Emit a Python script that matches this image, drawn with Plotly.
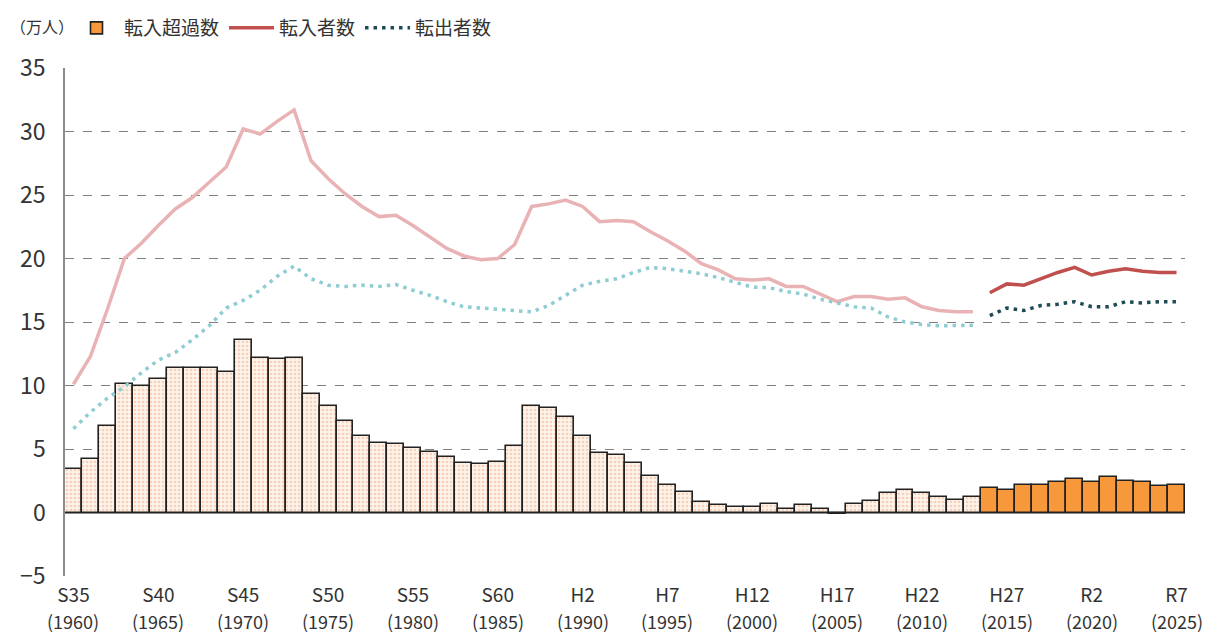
import plotly.graph_objects as go

years = list(range(1960, 2026))
years_old = years[:54]   # 1960-2013
years_new = years[54:]   # 2014-2025

# 転入超過数 (万人)
net_old = [3.4, 4.2, 6.8, 10.1, 10.0, 10.5, 11.4, 11.4, 11.4, 11.1,
           13.6, 12.2, 12.1, 12.2, 9.3, 8.4, 7.2, 6.0, 5.5, 5.4,
           5.1, 4.8, 4.4, 3.9, 3.8, 4.0, 5.2, 8.4, 8.2, 7.5,
           6.0, 4.7, 4.5, 3.9, 2.9, 2.2, 1.6, 0.8, 0.6, 0.4,
           0.4, 0.7, 0.3, 0.6, 0.3, -0.1, 0.7, 0.9, 1.5, 1.8,
           1.5, 1.2, 1.0, 1.2]
net_new = [1.9, 1.8, 2.2, 2.2, 2.4, 2.6, 2.4, 2.8, 2.5, 2.4, 2.1, 2.2]

# 転入者数 (万人)
in_old = [10.1, 12.3, 16.0, 20.0, 21.2, 22.6, 23.9, 24.8, 26.0, 27.2,
          30.2, 29.8, 30.8, 31.7, 27.7, 26.3, 25.1, 24.1, 23.3, 23.4,
          22.6, 21.7, 20.8, 20.2, 19.9, 20.0, 21.1, 24.1, 24.3, 24.6,
          24.1, 22.9, 23.0, 22.9, 22.1, 21.4, 20.6, 19.6, 19.1, 18.4,
          18.3, 18.4, 17.8, 17.8, 17.2, 16.6, 17.0, 17.0, 16.8, 16.9,
          16.2, 15.9, 15.8, 15.8]
in_new = [17.3, 18.0, 17.9, 18.4, 18.9, 19.3, 18.7, 19.0, 19.2, 19.0, 18.9, 18.9]

# 転出者数 (万人)
out_old = [6.6, 7.9, 9.0, 9.9, 11.0, 12.0, 12.6, 13.6, 14.7, 16.1,
           16.7, 17.5, 18.6, 19.4, 18.4, 17.9, 17.8, 17.9, 17.8, 17.95,
           17.5, 17.1, 16.6, 16.2, 16.1, 16.0, 15.9, 15.8, 16.3, 17.1,
           17.9, 18.2, 18.4, 18.9, 19.3, 19.2, 19.0, 18.8, 18.5, 18.1,
           17.75, 17.7, 17.4, 17.2, 16.8, 16.5, 16.2, 16.1, 15.4, 15.0,
           14.8, 14.7, 14.7, 14.75]
out_new = [15.5, 16.1, 15.9, 16.3, 16.4, 16.6, 16.2, 16.2, 16.6, 16.5, 16.6, 16.6]

tick_years = list(range(1960, 2026, 5))
tick_era = ["S35", "S40", "S45", "S50", "S55", "S60", "H2", "H7",
            "H12", "H17", "H22", "H27", "R2", "R7"]

font = "Noto Sans CJK JP"
txt = "#333333"

# page body has an 8px margin, so the figure is a bit smaller than the window
W, H = 1211, 629
L, T, R, B = 57, 60, 34, 61
plot_h = H - T - B

fig = go.Figure()

fig.add_trace(go.Bar(
    x=years_old, y=net_old, showlegend=False,
    marker=dict(color="#FDF1E6", line=dict(color="#222222", width=1.6),
                pattern=dict(shape=".", fgcolor="#EDB088", bgcolor="#FDF3EA",
                             size=4, solidity=0.35)),
))
fig.add_trace(go.Bar(
    x=years_new, y=net_new, name="転入超過数",
    marker=dict(color="#F7983A", line=dict(color="#222222", width=1.6)),
))

fig.add_trace(go.Scatter(x=years_old, y=in_old, mode="lines", showlegend=False,
                         line=dict(color="#E9B3B6", width=3.5)))
fig.add_trace(go.Scatter(x=years_new, y=in_new, mode="lines", name="転入者数",
                         line=dict(color="#C0504D", width=3.5)))

fig.add_trace(go.Scatter(x=years_old, y=out_old, mode="lines", showlegend=False,
                         line=dict(color="#8FCCD3", width=3.5, dash="3.5px,5px")))
fig.add_trace(go.Scatter(x=years_new, y=out_new, mode="lines", name="転出者数",
                         line=dict(color="#1F4A57", width=3.5, dash="3.5px,5px")))

# second row of x labels: western years
for yr in tick_years:
    fig.add_annotation(x=yr, y=(H - B - 613) / plot_h, xref="x", yref="paper",
                       text="(%d)" % yr, showarrow=False,
                       font=dict(family=font, size=18, color=txt),
                       yanchor="middle")

fig.add_annotation(x=(0 - L) / (W - L - R), y=(H - B - 18) / plot_h,
                   xref="paper", yref="paper", text="（万人）",
                   showarrow=False, font=dict(family=font, size=16, color=txt),
                   xanchor="left", yanchor="middle")

fig.update_layout(
    width=W, height=H,
    margin=dict(l=L, r=R, t=T, b=B, autoexpand=False),
    plot_bgcolor="white", paper_bgcolor="white",
    barmode="overlay", bargap=0,
    font=dict(family=font, color=txt),
    legend=dict(orientation="h", xref="container", yref="container",
                x=61 / W, y=1 - 20 / H, xanchor="left", yanchor="middle",
                font=dict(size=19, family=font, color=txt),
                traceorder="normal", itemwidth=45, tracegroupgap=0),
    xaxis=dict(range=[1959.5, 2025.5], tickvals=tick_years, ticktext=tick_era,
               showgrid=False, showline=False, zeroline=False, ticks="",
               ticklabelstandoff=6,
               tickfont=dict(size=19, family=font, color=txt)),
    yaxis=dict(range=[-5, 35], dtick=5, showgrid=True, gridcolor="#7F7F7F",
               griddash="dash", gridwidth=1, zeroline=True, zerolinecolor="#8C8C8C",
               zerolinewidth=1.5, showline=True, linecolor="#8C8C8C", linewidth=1.5,
               ticks="", ticklabelstandoff=13,
               tickfont=dict(size=23, family=font, color=txt)),
)

fig.write_html("out.html")
